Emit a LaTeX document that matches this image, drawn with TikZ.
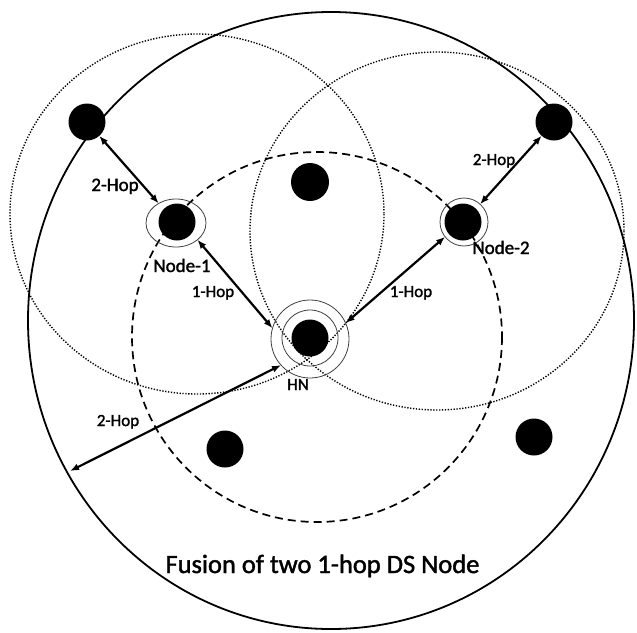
\documentclass[tikz,border=0pt]{standalone}
\usepackage{fontspec}
\setmainfont{Carlito}
\newfontfamily\semib{Carlito}[FakeBold=1.6]
\usetikzlibrary{arrows.meta,shapes.geometric}
\begin{document}
\begin{tikzpicture}[x=1pt,y=-1pt,
 dot/.style={circle,fill=black,draw=none,minimum size=37pt,inner sep=0pt,outer sep=0pt},
 ring/.style={draw=black!75,line width=0.8pt,fill=none,inner sep=0pt,outer sep=0pt},
 hop/.style={{Latex[length=9pt,width=7pt]}-{Latex[length=9pt,width=7pt]},line width=2.2pt},
 lbl/.style={font=\semib\fontsize{17}{20}\selectfont,text=black,inner sep=0pt,anchor=base},
 nlbl/.style={font=\semib\fontsize{19}{22}\selectfont,text=black,inner sep=0pt,anchor=base},
 dotc/.style={line width=1.4pt,dash pattern=on 1.3pt off 1.6pt},
 dashc/.style={line width=1.7pt,dash pattern=on 8pt off 5pt}]
\useasboundingbox (0,0) rectangle (637,632);
% circles
\draw[line width=1.8pt] (331,320.5) ellipse [x radius=303,y radius=308.5];
\draw[dotc] (197,214) ellipse [x radius=187,y radius=180];
\draw[dotc] (437,231) ellipse [x radius=187,y radius=179];
\draw[dashc] (317,337) circle [radius=185];
% sensor nodes
\node[dot] (tl) at (87,122) {};
\node[dot] (tr) at (554,122) {};
\node[dot,minimum size=38pt] (ct) at (310,182) {};
\node[dot] (bl) at (225,449) {};
\node[dot] (br) at (534,437) {};
\node[dot] (d1) at (177,222) {};
\node[ring,ellipse,minimum width=60pt,minimum height=48pt] (n1) at (176,223) {};
\node[dot] (d2) at (463,222) {};
\node[ring,circle,minimum size=48pt] (n2) at (464,222) {};
\node[dot] (dh) at (310,338) {};
\node[ring,circle,minimum size=56pt] (hi) at (310,338) {};
\node[ring,circle,minimum size=78pt] (hn) at (310,339) {};
% arrows
\coordinate (edge) at (70,471);
\draw[hop] (tl) -- (n1);
\draw[hop] (n1.-38) -- (hn.164);
\draw[hop] (n2.218) -- (hn.24);
\draw[hop] (tr) -- (n2);
\draw[hop] (edge) -- (hn.222);
% labels
\node[nlbl] (l2a) at (115,191) {2-Hop};
\node[nlbl] (ln1) at (182,272) {Node-1};
\node[lbl] (l1a) at (213,297) {1-Hop};
\node[lbl] (l1b) at (411,297) {1-Hop};
\node[lbl] (l2b) at (494,165) {2-Hop};
\node[nlbl] (ln2) at (501,254) {Node-2};
\node[lbl] (l2c) at (118,426) {2-Hop};
\node[lbl] (lhn) at (298,390) {HN};
\node[font=\semib\fontsize{26.5}{30}\selectfont,text=black,inner sep=0pt,anchor=base] (title) at (322.5,573) {Fusion of two 1-hop DS Node};
\end{tikzpicture}
\end{document}
